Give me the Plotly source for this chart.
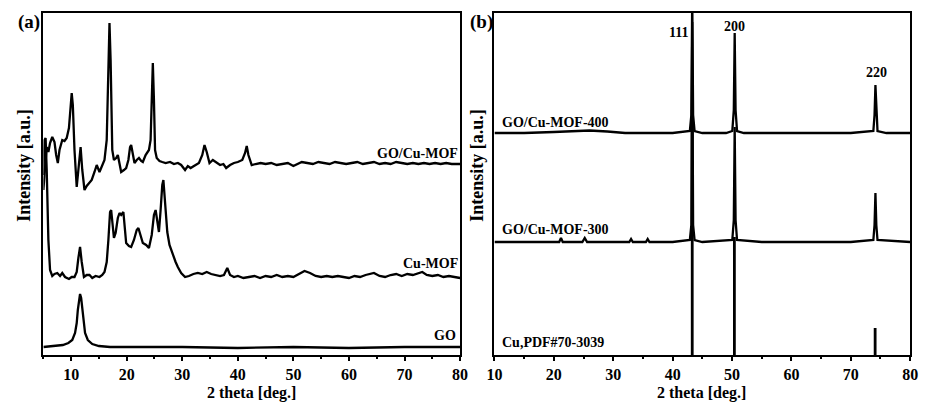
import plotly.graph_objects as go

# ---------------- Panel (a) data ----------------
go_cumof_x = [5.0, 5.3, 5.6, 5.9, 6.2, 6.6, 7.0, 7.3, 7.6, 7.9, 8.4, 8.8, 9.2, 9.6, 9.9, 10.1, 10.3, 10.6,
              11.0, 11.3, 11.7, 12.0, 12.4, 12.8, 13.3, 13.7, 14.2, 14.6, 15.1, 15.6, 16.0, 16.4, 16.7, 16.9,
              17.1, 17.4, 17.7, 18.1, 18.4, 18.7, 19.0, 19.5, 19.9, 20.3, 20.6, 20.8, 21.1, 21.4, 21.8, 22.2,
              22.6, 22.9, 23.4, 24.0, 24.3, 24.5, 24.7, 24.9, 25.1, 25.4, 25.9, 26.4, 27.0, 27.8, 28.5, 29.2,
              29.8, 30.5, 31.0, 31.5, 32.3, 33.0, 33.6, 34.0, 34.4, 34.9, 35.5, 36.1, 36.8, 37.4, 37.9, 38.6,
              39.3, 40.0, 40.8, 41.3, 41.6, 41.9, 42.5, 43.2, 44.1, 45, 46, 47, 48, 49, 50, 50.8, 51.5, 52.5,
              53.5, 54.5, 55.5, 56.5, 57.5, 58.5, 59.5, 60.5, 61.5, 62.5, 63.5, 64.5, 65.5, 66.5, 67.5, 68.5,
              69.5, 70.5, 71.5, 72.5, 73.5, 74.5, 75.5, 76.5, 77.5, 78.5, 80]
go_cumof_y = [165, 190, 208, 203, 212, 218, 213, 200, 192, 205, 215, 214, 217, 227, 255, 262, 250, 205,
              168, 185, 208, 185, 165, 169, 173, 175, 183, 190, 183, 189, 195, 215, 295, 332,
              295, 205, 195, 197, 200, 190, 183, 185, 187, 195, 208, 210, 200, 192, 195, 197,
              194, 193, 200, 205, 215, 255, 292, 255, 205, 197, 194, 193, 192, 193, 191, 192,
              190, 185, 189, 187, 190, 192, 200, 210, 203, 192, 195, 193, 190, 191, 187, 190,
              192, 193, 195, 202, 209, 200, 190, 191, 192, 191, 192, 190, 191, 192, 189, 191, 193, 192,
              191, 193, 192, 191, 193, 192, 191, 192, 193, 191, 192, 193, 191, 192, 191, 193,
              192, 191, 192, 191, 192, 191, 192, 191, 192, 191, 191]

cumof_x = [5.0, 5.2, 5.4, 5.6, 5.9, 6.2, 6.6, 7.0, 7.5, 8.0, 8.4, 8.9, 9.6, 10.1, 10.6, 11.0, 11.3, 11.6,
           11.9, 12.3, 12.8, 13.3, 13.8, 14.4, 15.1, 15.6, 16.0, 16.4, 16.7, 17.0, 17.2, 17.5, 17.7, 18.0,
           18.4, 18.7, 19.0, 19.4, 19.7, 19.9, 20.4, 20.8, 21.3, 21.8, 22.1, 22.5, 22.9, 23.5, 24.0, 24.5,
           24.9, 25.2, 25.5, 25.8, 26.1, 26.4, 26.6, 26.9, 27.3, 27.7, 28.1, 28.4, 28.8, 29.2, 29.8, 30.5,
           31.2, 32.0, 32.8, 33.6, 34.4, 35.2, 36.0, 36.8, 37.5, 38.1, 38.6, 39.3, 40.0, 41, 42, 43, 44, 45,
           46, 47, 48, 49, 50, 51, 52, 53, 54, 55, 56, 57, 58, 59, 60, 61, 62, 63, 64.5, 65.5, 66.5, 67.5,
           68.5, 69.5, 70.5, 71.5, 72.5, 73.2, 74, 75, 76, 77, 78, 79, 80]
cumof_y = [180, 215, 217, 185, 115, 85, 79, 81, 82, 79, 82, 78, 76, 78, 78, 83, 97, 108,
           93, 78, 80, 80, 77, 79, 78, 80, 83, 93, 115, 143, 145, 125, 117, 122,
           137, 142, 140, 143, 127, 112, 109, 108, 115, 125, 127, 119, 112, 110, 107, 120,
           140, 145, 133, 123, 145, 170, 175, 155, 123, 110, 103, 98, 93, 88, 82, 78,
           79, 81, 82, 81, 83, 81, 80, 79, 80, 87, 80, 78, 79, 77, 78, 79, 77, 79,
           78, 80, 78, 79, 78, 81, 84, 82, 79, 78, 79, 78, 79, 78, 77, 79, 78, 80, 82, 79, 78, 80,
           81, 79, 81, 80, 82, 83, 80, 79, 80, 78, 79, 78, 77]

go_x = [5, 7, 8.5, 9.5, 10.2, 10.7, 11.0, 11.2, 11.4, 11.6, 11.8, 12.0, 12.2, 12.5, 13.0, 13.8, 15, 17,
        20, 30, 40, 50, 60, 70, 80]
go_y = [8, 9, 10, 12, 15, 22, 32, 45, 57, 61, 57, 45, 32, 22, 15, 11, 9, 8,
        8, 8, 7, 8, 7, 8, 8]

# ---------------- Panel (b) data ----------------
s400_x = [10, 15, 20, 23, 26, 29, 32, 36, 40, 42.9, 43.15, 43.3, 43.45, 43.7, 45, 47, 49, 50.05, 50.3,
          50.45, 50.6, 50.85, 52, 55, 60, 65, 70, 73.8, 74.0, 74.15, 74.3, 74.5, 76, 80]
s400_y = [222, 222, 223, 224, 224.5, 223.5, 222, 222, 222, 224, 240, 360, 240, 224, 222, 222, 222, 224, 245,
          322, 245, 224, 222, 222, 222, 222, 222, 224, 240, 270, 240, 224, 222, 222]

s300_x = [10, 15, 20, 20.9, 21.2, 21.5, 24.8, 25.2, 25.6, 30, 32.7, 33.0, 33.3, 35.5, 35.8, 36.1, 40,
          42.9, 43.15, 43.3, 43.45, 43.7, 45, 50.05, 50.3, 50.45, 50.6, 50.85, 55, 60, 65, 70,
          73.8, 74.0, 74.15, 74.3, 74.5, 80]
s300_y = [113, 113, 113, 113, 117, 113, 113, 117, 113, 113, 113, 116, 113, 113, 116, 113, 113,
          115, 130, 333, 130, 115, 113, 115, 135, 228, 135, 115, 113, 113, 113, 113,
          115, 130, 162, 130, 115, 113]

pdf_pos = [43.3, 50.4, 74.1]
pdf_int = [245, 118, 27]

hkl_labels = ["111", "200", "220"]
hkl_x = [41.0, 50.5, 74.3]
hkl_y = [322, 328, 282]

tick_vals = [10, 20, 30, 40, 50, 60, 70, 80]

FONT = "Liberation Serif, Times New Roman, serif"
LW = 2.3

fig = go.Figure()
for xs, ys in [(go_cumof_x, go_cumof_y), (cumof_x, cumof_y), (go_x, go_y)]:
    fig.add_trace(go.Scatter(x=xs, y=ys, mode="lines", line=dict(color="black", width=LW),
                             xaxis="x", yaxis="y", showlegend=False, hoverinfo="skip"))

stick_x, stick_y = [], []
for p, h in zip(pdf_pos, pdf_int):
    stick_x += [p, p, None]
    stick_y += [0, h, None]
fig.add_trace(go.Scatter(x=stick_x, y=stick_y, mode="lines", line=dict(color="black", width=2.8),
                         xaxis="x2", yaxis="y2", showlegend=False, hoverinfo="skip"))
for xs, ys in [(s300_x, s300_y), (s400_x, s400_y)]:
    fig.add_trace(go.Scatter(x=xs, y=ys, mode="lines", line=dict(color="black", width=LW),
                             xaxis="x2", yaxis="y2", showlegend=False, hoverinfo="skip"))

ydom = [(403 - 355) / 403, (403 - 13) / 403]
xdom1 = [36 / 928, 460 / 928]
xdom2 = [495 / 928, 918 / 928]

common_x = dict(showline=True, linecolor="black", linewidth=2, mirror=True, ticks="outside",
                ticklen=4, tickwidth=2, tickcolor="black", tickvals=tick_vals, showgrid=False,
                zeroline=False, tickfont=dict(family=FONT, size=16, color="black", weight="bold"),
                minor=dict(ticks="outside", dtick=5, ticklen=2, tickwidth=2, tickcolor="black",
                           showgrid=False))
common_y = dict(showline=True, linecolor="black", linewidth=2, mirror=True, ticks="",
                showticklabels=False, showgrid=False, zeroline=False, range=[0, 342],
                domain=ydom)

fig.update_layout(
    width=928, height=403, margin=dict(l=0, r=0, t=0, b=0),
    paper_bgcolor="white", plot_bgcolor="white",
    font=dict(family=FONT, color="black", weight="bold"),
    xaxis=dict(domain=xdom1, range=[5, 80], anchor="y", **common_x),
    yaxis=dict(anchor="x", **common_y),
    xaxis2=dict(domain=xdom2, range=[10, 80], anchor="y2", **common_x),
    yaxis2=dict(anchor="x2", **common_y),
)

ann = []
def add(text, x, y, xref, yref, size, xanchor="center", yanchor="middle", angle=0):
    ann.append(dict(text="<b>%s</b>" % text, x=x, y=y, xref=xref, yref=yref, showarrow=False,
                    xanchor=xanchor, yanchor=yanchor, textangle=angle, borderpad=0,
                    font=dict(family=FONT, size=size, color="black")))

# curve labels panel (a)
add("GO/Cu-MOF", 79.8, 202, "x", "y", 14, xanchor="right")
add("Cu-MOF", 79.8, 92, "x", "y", 14, xanchor="right")
add("GO", 79.5, 20, "x", "y", 14, xanchor="right")
# curve labels panel (b)
add("GO/Cu-MOF-400", 11.1, 232, "x2", "y2", 14, xanchor="left")
add("GO/Cu-MOF-300", 11.1, 126, "x2", "y2", 14, xanchor="left")
add("Cu,PDF#70-3039", 11.1, 13, "x2", "y2", 14, xanchor="left")
for t, hx, hy in zip(hkl_labels, hkl_x, hkl_y):
    add(t, hx, hy, "x2", "y2", 14)
# panel letters
add("(a)", 21 / 928, 1 - 22 / 403, "paper", "paper", 19)
add("(b)", 482 / 928, 1 - 22 / 403, "paper", "paper", 19)
# axis titles
add("2 theta [deg.]", 248 / 928, 0.0, "paper", "paper", 16, yanchor="bottom")
add("2 theta [deg.]", 706 / 928, 0.0, "paper", "paper", 16, yanchor="bottom")
add("Intensity [a.u.]", 16 / 928, 1 - 165 / 403, "paper", "paper", 18, angle=-90)
add("Intensity [a.u.]", 477 / 928, 1 - 165 / 403, "paper", "paper", 18, angle=-90)
fig.update_layout(annotations=ann)

fig.write_html("out.html")
